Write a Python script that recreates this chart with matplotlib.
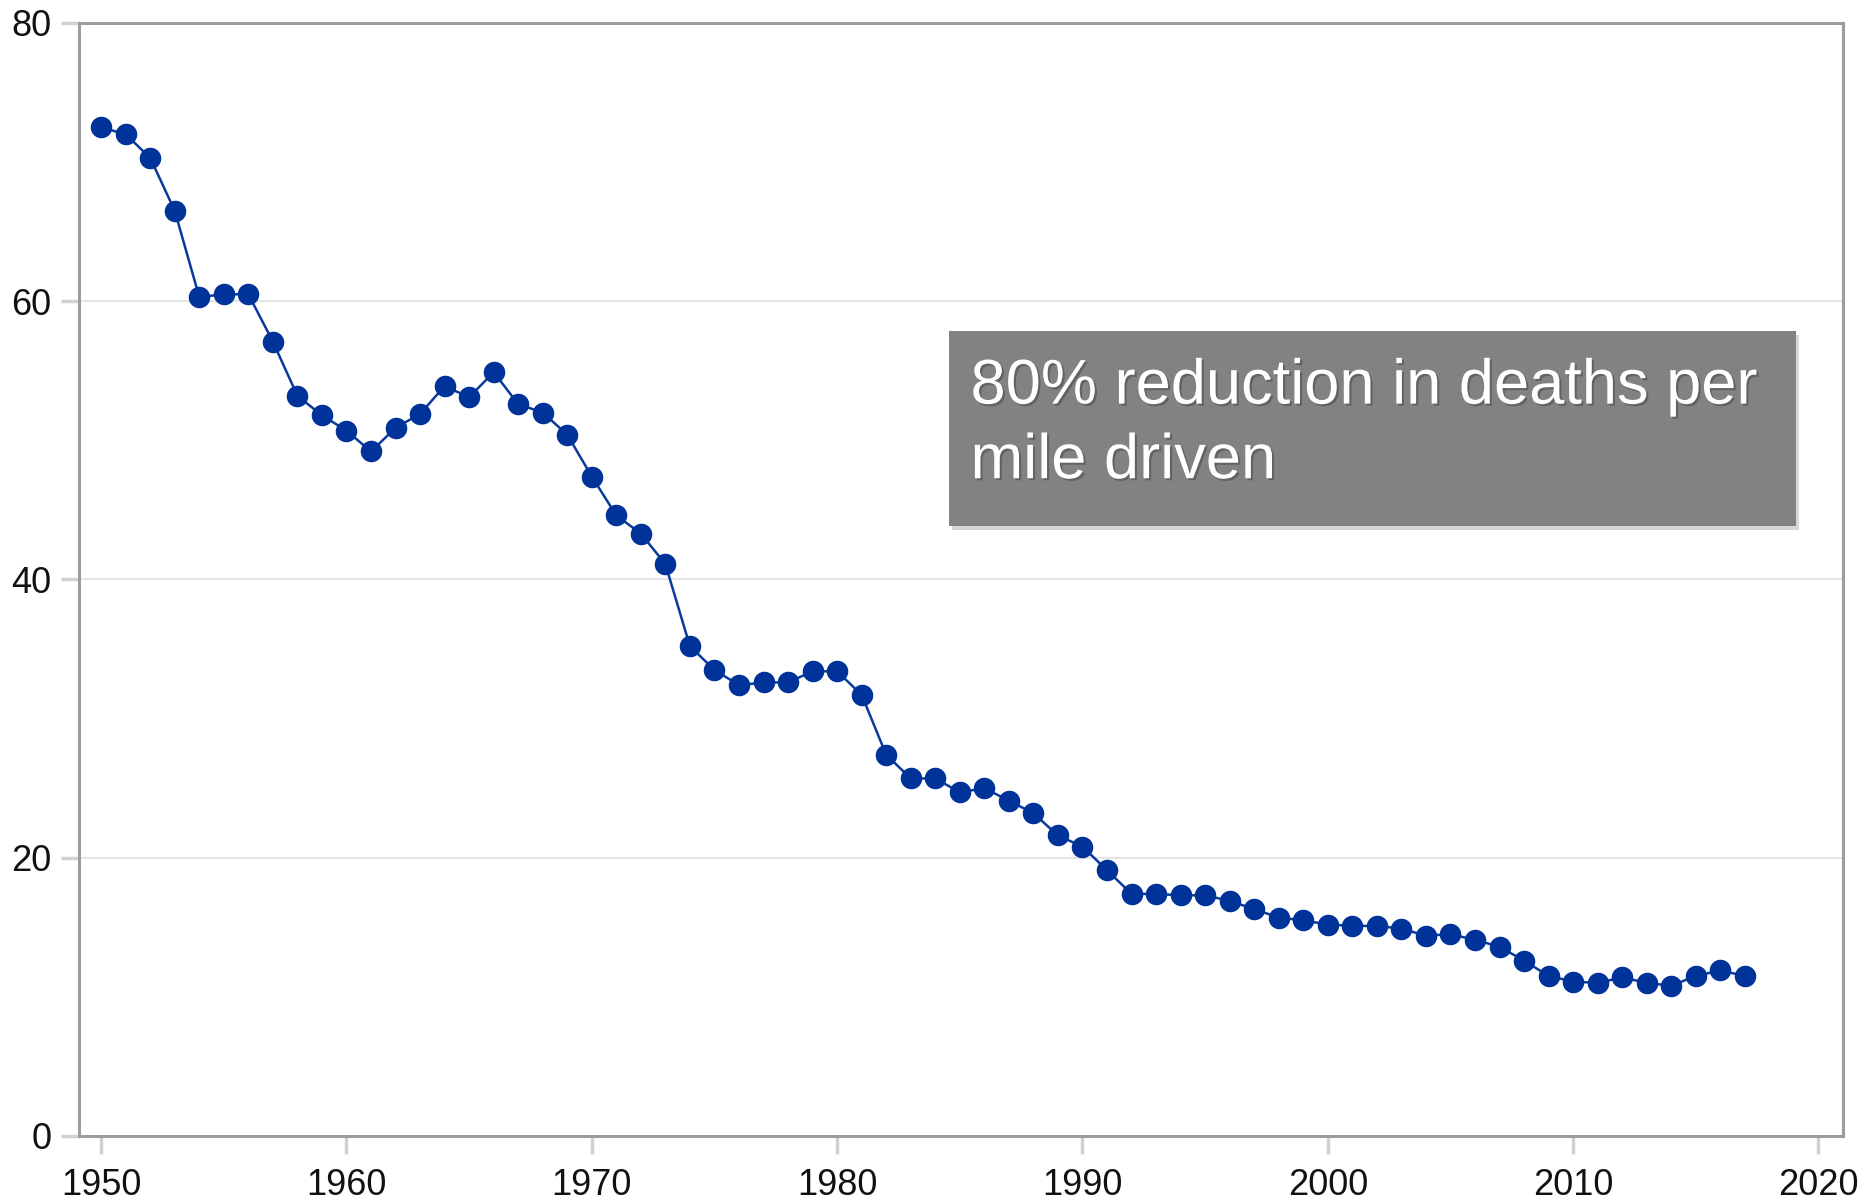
import matplotlib
matplotlib.use('Agg')
import matplotlib.pyplot as plt
import matplotlib.patheffects as pe
from matplotlib.patches import Rectangle

plt.rcParams['font.family'] = ['Liberation Sans', 'DejaVu Sans']

# deaths per mile driven (per 10 billion miles)
years = list(range(1950, 2018))
deaths = [72.5, 72.0, 70.3, 66.5, 60.3, 60.5, 60.5, 57.1, 53.2, 51.8,
          50.7, 49.2, 50.9, 51.9, 53.9, 53.1, 54.9, 52.6, 52.0, 50.4,
          47.4, 44.6, 43.3, 41.1, 35.2, 33.5, 32.4, 32.6, 32.6, 33.4,
          33.4, 31.7, 27.4, 25.7, 25.7, 24.7, 25.0, 24.1, 23.2, 21.6,
          20.8, 19.1, 17.4, 17.4, 17.3, 17.3, 16.9, 16.3, 15.7, 15.5,
          15.2, 15.1, 15.1, 14.9, 14.4, 14.5, 14.1, 13.6, 12.6, 11.5,
          11.1, 11.0, 11.4, 11.0, 10.8, 11.5, 11.9, 11.5]
xticks = [1950, 1960, 1970, 1980, 1990, 2000, 2010, 2020]
yticks = [0, 20, 40, 60, 80]
note = '80% reduction in deaths per\nmile driven'

fig = plt.figure(figsize=(18.65, 12.04), dpi=100)
ax = fig.add_axes([0.0424, 0.0565, 0.9458, 0.9244])

for y in yticks[1:-1]:
    ax.axhline(y, color='#e4e4e4', lw=1.5, zorder=0)

ax.plot(years, deaths, color='#0a3a9c', lw=1.8, marker='o', markersize=14.5,
        markerfacecolor='#003399', markeredgecolor='#003399', zorder=3)

ax.set_xlim(1949.1, 2021.0)
ax.set_ylim(0, 80)
ax.set_xticks(xticks)
ax.set_yticks(yticks)
ax.tick_params(axis='both', labelsize=26, color='#cfd2d4', width=2.5,
               length=13, labelcolor='#111111')
ax.tick_params(axis='x', pad=10)
ax.tick_params(axis='y', pad=7)
for s in ax.spines.values():
    s.set_color('#999ca0')
    s.set_linewidth(2.2)

box = Rectangle((0.5088, 0.5631), 0.4542, 0.162, transform=fig.transFigure,
                facecolor='#828282', edgecolor='none', zorder=5,
                path_effects=[pe.SimplePatchShadow(offset=(2, -3), shadow_rgbFace='#bbbbbb', alpha=0.6),
                              pe.Normal()])
fig.patches.append(box)
fig.text(0.5204, 0.703, note, color='white', fontsize=45.5, va='top', ha='left',
         linespacing=1.34, zorder=6,
         path_effects=[pe.withSimplePatchShadow(offset=(1.5, -1.5), shadow_rgbFace='#444444', alpha=0.5)])

fig.savefig('out.png', dpi=100)
